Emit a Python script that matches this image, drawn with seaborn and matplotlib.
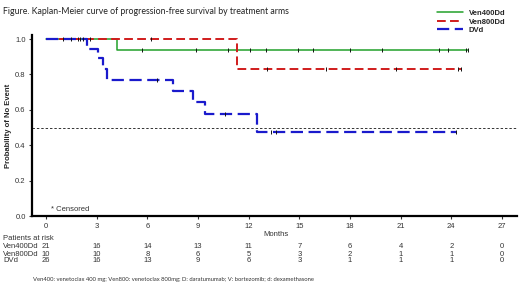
import numpy as np
import matplotlib
matplotlib.use("Agg")
import matplotlib.pyplot as plt
import seaborn as sns

# 데이터
arms = ["Ven400Dd", "Ven800Dd", "DVd"]
colors = ["#22a02a", "#d01c1c", "#1a1acc"]

ven400_time = [0, 4.2, 25.0]
ven400_surv = [1.0, 0.9375, 0.9375]
ven400_cens = [1.0, 1.9, 2.2, 5.7, 8.9, 10.8, 12.1, 13.0, 14.9, 15.8, 18.0, 19.9, 23.3, 23.8, 24.9, 25.0]

ven800_time = [0, 11.3, 24.6]
ven800_surv = [1.0, 0.833, 0.833]
ven800_cens = [2.6, 6.2, 13.1, 16.6, 20.7, 24.4, 24.6]

dvd_time = [0, 2.4, 3.1, 3.35, 3.6, 7.5, 8.7, 9.4, 12.5, 24.3]
dvd_surv = [1.0, 0.943, 0.89, 0.83, 0.767, 0.705, 0.642, 0.574, 0.477, 0.477]
dvd_cens = [1.5, 2.0, 6.6, 10.6, 13.3, 13.6, 24.3]

month_ticks = [0, 3, 6, 9, 12, 15, 18, 21, 24, 27]
at_risk = {
    "Ven400Dd": [21, 16, 14, 13, 11, 7, 6, 4, 2, 0],
    "Ven800Dd": [10, 10, 8, 6, 5, 3, 2, 1, 1, 0],
    "DVd": [26, 16, 13, 9, 6, 3, 1, 1, 1, 0],
}

footnote = "Ven400: venetoclax 400 mg; Ven800: venetoclax 800mg; D: daratumumab; V: bortezomib; d: dexamethasone"

sns.set_style("white")
plt.rcParams["font.family"] = ["Liberation Sans", "DejaVu Sans"]

fig = plt.figure(figsize=(5.2, 2.84), dpi=100)
ax = fig.add_axes([0.0615, 0.239, 0.933, 0.638])

curves = [
    (ven400_time, ven400_surv, ven400_cens, "-", 1.1),
    (ven800_time, ven800_surv, ven800_cens, (0, (4.5, 2.2)), 1.4),
    (dvd_time, dvd_surv, dvd_cens, (0, (5.5, 2.5)), 1.6),
]
for name, color, (t, s, c, ls, lw) in zip(arms, colors, curves):
    sns.lineplot(x=t, y=s, ax=ax, color=color, linestyle=ls, linewidth=lw,
                 drawstyle="steps-post", estimator=None, label=name)
    # 중도절단 표시 y값은 계단 함수에서 가져옴
    idx = np.searchsorted(t, c, side="right") - 1
    cy = np.array(s)[idx]
    sns.scatterplot(x=c, y=cy, ax=ax, marker="|", color="#111111", s=6,
                    linewidth=0.7, zorder=5)

ax.axhline(0.5, color="#333333", linestyle=(0, (2.5, 2)), linewidth=0.7)

ax.set_xlim(-0.83, 27.9)
ax.set_ylim(0, 1.023)
ax.set_xticks(month_ticks)
ax.set_yticks([0.0, 0.2, 0.4, 0.6, 0.8, 1.0])
ax.set_yticklabels(["0.0", "0.2", "0.4", "0.6", "0.8", "1.0"])
ax.tick_params(axis="both", labelsize=5.5, length=2.5, width=0.8, pad=2,
               color="#333333", labelcolor="#333333", direction="out",
               bottom=True, left=True)
ax.tick_params(axis="x", pad=2.5)
for side in ["top", "right"]:
    ax.spines[side].set_visible(False)
for side in ["left", "bottom"]:
    ax.spines[side].set_linewidth(1.6)
    ax.spines[side].set_color("black")

ax.set_ylabel("Probability of No Event", fontsize=5.5, fontweight="bold", labelpad=2)
ax.set_xlabel("")
ax.text(0.0615 + 0.933 * (13.6 + 0.83) / 28.73, 1 - 235 / 284, "Months",
        transform=fig.transFigure, fontsize=5.5, ha="center", va="center", color="#333333")

ax.legend_.remove()
h, l = ax.get_legend_handles_labels()
leg = fig.legend(h[:3], l[:3], loc="upper right", bbox_to_anchor=(0.985, 0.99),
                 frameon=False, handlelength=3.3, labelspacing=0.15,
                 prop={"weight": "bold", "size": 5.5})

ax.text(0.3, 0.035, "* Censored", fontsize=5.5, color="#333333", va="center",
        transform=ax.transData)

fig.text(3 / 520, 1 - 12 / 284, "Figure. Kaplan-Meier curve of progression-free survival by treatment arms",
         fontsize=6.3, family=["Lato", "DejaVu Sans"], color="#222222", va="center")

# 위험 환자 수 표
fig.text(3 / 520, 1 - 238 / 284, "Patients at risk", fontsize=5.5, va="center", color="#333333")
row_y = [246, 254, 261]
for name, y in zip(arms, row_y):
    fig.text(3 / 520, 1 - y / 284, name, fontsize=5.5, va="center", color="#333333")
    for m, n in zip(month_ticks, at_risk[name]):
        xf = 0.0615 + 0.933 * (m + 0.83) / 28.73
        fig.text(xf, 1 - y / 284, str(n), fontsize=5.5, ha="center", va="center", color="#333333")

fig.text(33 / 520, 1 - 280 / 284, footnote, fontsize=4.2, family=["Lato", "DejaVu Sans"],
         va="center", color="#333333")

fig.savefig("out.png", dpi=100)
